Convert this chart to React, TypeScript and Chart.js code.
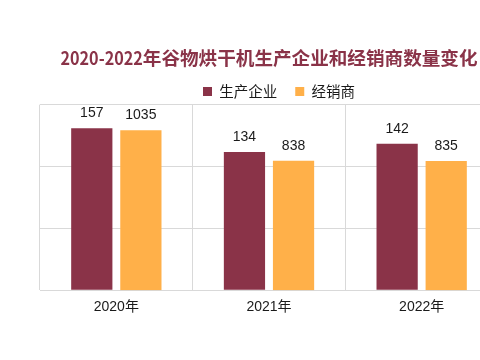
import React, { useEffect, useRef } from "react";
import { Chart, registerables } from "chart.js";

Chart.register(...registerables);

const categories = ["2020年", "2021年", "2022年"];
const producers = [157, 134, 142];
const dealers = [1035, 838, 835];
const seriesNames = ["生产企业", "经销商"];
const titleText = "2020-2022年谷物烘干机生产企业和经销商数量变化";

const RED = "#8A3348";
const ORANGE = "#FFB049";
const GRID = "#d9d9d9";
const FONT = '"Liberation Sans", "Noto Sans CJK SC", sans-serif';
const TITLE_FONT = 'bold 18.6px "Noto Sans CJK SC", sans-serif';

const valueLabels = {
  id: "valueLabels",
  afterDatasetsDraw(chart: any) {
    const ctx = chart.ctx;
    ctx.save();
    ctx.font = "14px " + FONT;
    ctx.fillStyle = "#1a1a1a";
    ctx.textAlign = "center";
    ctx.textBaseline = "alphabetic";
    chart.data.datasets.forEach((ds: any, i: number) => {
      const meta = chart.getDatasetMeta(i);
      meta.data.forEach((el: any, j: number) => {
        ctx.fillText(String(ds.data[j]), el.x, el.y - 11);
      });
    });
    ctx.restore();
  },
};

// Title drawn with narrower digits (the source font has condensed numerals),
// centred over the plot area like the original.
const titleDraw = {
  id: "titleDraw",
  afterDraw(chart: any) {
    const t = chart.titleBlock;
    if (!t) return;
    const ctx = chart.ctx;
    ctx.save();
    ctx.font = TITLE_FONT;
    ctx.fillStyle = RED;
    ctx.textBaseline = "middle";
    ctx.textAlign = "left";
    const digits = titleText.slice(0, 9);
    const rest = titleText.slice(9);
    const dw = ctx.measureText(digits).width;
    const sx = 0.87;
    const rw = ctx.measureText(rest).width;
    const total = dw * sx + rw;
    const cx = (chart.chartArea.left + chart.chartArea.right) / 2;
    const y = t.bottom - 4;
    const x0 = cx - total / 2;
    ctx.save();
    ctx.translate(x0, y);
    ctx.scale(sx, 1);
    ctx.fillText(digits, 0, 0);
    ctx.restore();
    ctx.fillText(rest, x0 + dw * sx, y);
    ctx.restore();
  },
};

const boxShift = {
  id: "boxShift",
  afterLayout(chart: any) {
    const l = chart.legend;
    if (l) {
      l.top += 4;
      l.bottom += 4;
    }
  },
};

export default function App() {
  const ref = useRef<HTMLCanvasElement>(null);
  useEffect(() => {
    if (!ref.current) return;
    const chart = new Chart(ref.current, {
      type: "bar",
      data: {
        labels: categories,
        datasets: [
          {
            label: seriesNames[0],
            data: producers,
            backgroundColor: RED,
            yAxisID: "y",
            categoryPercentage: 0.643,
            barPercentage: 0.84,
          },
          {
            label: seriesNames[1],
            data: dealers,
            backgroundColor: ORANGE,
            yAxisID: "y1",
            categoryPercentage: 0.643,
            barPercentage: 0.84,
          },
        ],
      },
      options: {
        animation: false,
        responsive: false,
        layout: { padding: { top: 0, bottom: 35, left: 0, right: 0 } },
        plugins: {
          title: {
            display: true,
            text: titleText,
            color: "rgba(0,0,0,0)",
            font: {
              size: 18.6,
              weight: "bold",
              family: '"Noto Sans CJK SC", sans-serif',
              lineHeight: 0.6,
            },
            padding: { top: 51, bottom: 0 },
          },
          legend: {
            display: true,
            labels: {
              boxWidth: 9,
              boxHeight: 9,
              padding: 18,
              color: "#1a1a1a",
              font: { size: 14.5, family: '"Noto Sans CJK SC", sans-serif' },
            },
          },
          tooltip: { enabled: false },
        },
        scales: {
          x: {
            grid: { color: GRID, offset: true, drawTicks: false },
            border: { display: true, color: GRID },
            ticks: { color: "#1a1a1a", font: { size: 14, family: FONT }, padding: 9 },
          },
          y: {
            position: "left",
            min: 0,
            max: 180,
            ticks: { display: false, stepSize: 60 },
            grid: { color: GRID, drawTicks: false },
            border: { display: false },
            afterFit: (s: any) => {
              s.width = 40;
            },
          },
          y1: {
            position: "right",
            min: 0,
            max: 1200,
            ticks: { display: false, stepSize: 400 },
            grid: { display: false, drawTicks: false },
            border: { display: false },
            afterFit: (s: any) => {
              s.width = 60;
            },
          },
        },
      },
      plugins: [valueLabels, boxShift, titleDraw],
    } as any);
    return () => chart.destroy();
  }, []);
  return (
    <div style={{ position: "absolute", left: 0, top: 0, width: 480, height: 360, overflow: "hidden", background: "#fff" }}>
      <canvas ref={ref} width={558} height={360} style={{ display: "block", width: 558, height: 360 }} />
    </div>
  );
}
